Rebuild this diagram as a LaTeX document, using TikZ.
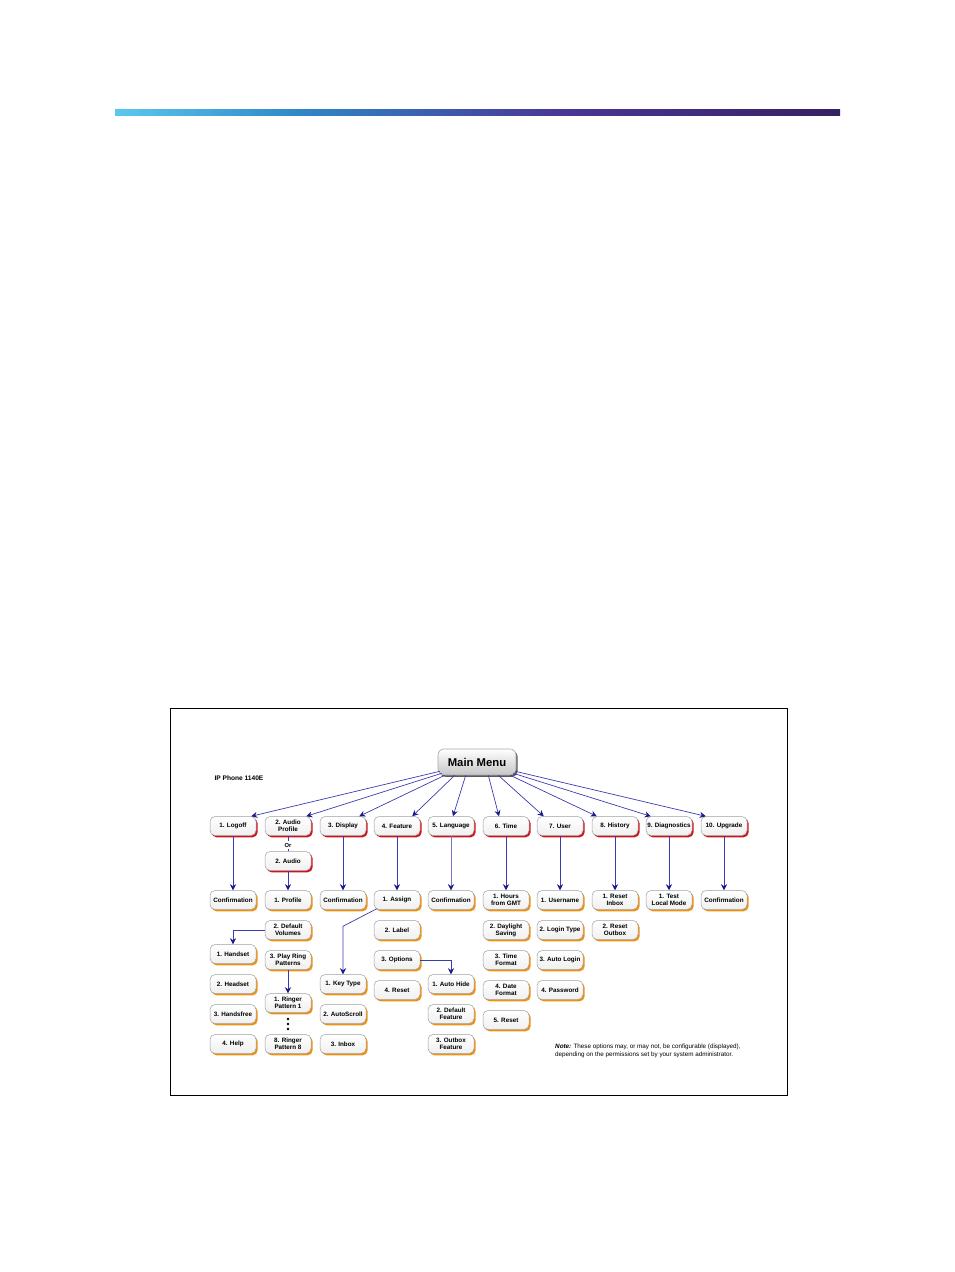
\documentclass[tikz,border=0pt]{standalone}
\usepackage{fontspec}
\setmainfont{Liberation Sans}
\usetikzlibrary{shadows,arrows.meta}
\definecolor{lnblue}{HTML}{3B3BB0}
\definecolor{tipblue}{HTML}{1A1A8A}
\definecolor{shred}{HTML}{D0121A}
\definecolor{shorange}{HTML}{F0900F}
\definecolor{barA}{HTML}{5BC8EE}
\definecolor{barB}{HTML}{2F86C8}
\definecolor{barC}{HTML}{4A3696}
\definecolor{barD}{HTML}{352262}
\tikzset{
  box/.style={draw=gray!75, rounded corners=5pt, top color=white, bottom color=gray!12, minimum width=46pt,
    minimum height=19pt, inner sep=0pt, align=center, line width=0.5pt,
    font=\bfseries\fontsize{6.3}{7}\selectfont},
  lvlone/.style={box, drop shadow={shadow xshift=1.6pt, shadow yshift=-1.8pt, fill=shred, opacity=1}},
  lvltwo/.style={box, drop shadow={shadow xshift=1.6pt, shadow yshift=-1.8pt, fill=shorange, opacity=1}},
  conn/.style={draw=lnblue, line width=0.7pt},
  arr/.style={conn, -{Stealth[length=6pt, width=6pt, color=tipblue]}},
  mainbox/.style={draw=gray!70, rounded corners=6pt, top color=white, bottom color=gray!45,
    minimum width=78pt, minimum height=26pt, inner sep=0pt, line width=0.6pt,
    font=\bfseries\fontsize{11.3}{13}\selectfont,
    drop shadow={shadow xshift=1.6pt, shadow yshift=-1.8pt, fill=gray!70!black, opacity=1}}
}
\begin{document}
\begin{tikzpicture}[x=1pt,y=-1pt]
\useasboundingbox (0,0) rectangle (954,1272);
% top bar
\shade[left color=barA, right color=barB] (115,109) rectangle (300.5,115);
\shade[left color=barB, right color=barC] (300,109) rectangle (560.5,115);
\shade[left color=barC, right color=barD] (560,109) rectangle (840,115);
% frame
\draw[line width=0.6pt] (170.5,708.5) rectangle (787.5,1095.5);

\node[anchor=west, font=\bfseries\fontsize{6.6}{7}\selectfont] (ipl) at (211,778) {IP Phone 1140E};

\node[mainbox] (mm) at (477,762) {Main Menu};

% level 1
\node[lvlone] (l1a) at (233,826) {1. Logoff};
\node[lvlone] (l1b) at (288,826) {2. Audio\\Profile};
\node[lvlone] (l1c) at (343,826) {3. Display};
\node[lvlone] (l1d) at (397,826) {4. Feature};
\node[lvlone] (l1e) at (451,826) {5. Language};
\node[lvlone] (l1f) at (506,826) {6. Time};
\node[lvlone] (l1g) at (560,826) {7. User};
\node[lvlone] (l1h) at (615,826) {8. History};
\node[lvlone] (l1i) at (669,826) {9. Diagnostics};
\node[lvlone] (l1j) at (724,826) {10. Upgrade};

\node[inner sep=1.5pt, font=\bfseries\fontsize{5.8}{6}\selectfont] (or) at (288,845) {Or};
\node[lvlone] (aud) at (288,861) {2. Audio};

% level 2
\node[lvltwo] (c1) at (233,900) {Confirmation};
\node[lvltwo] (prof) at (288,900) {1. Profile};
\node[lvltwo] (c3) at (343,900) {Confirmation};
\node[lvltwo] (as) at (397,900) {1. Assign};
\node[lvltwo] (c5) at (451,900) {Confirmation};
\node[lvltwo] (gmt) at (506,900) {1. Hours\\from GMT};
\node[lvltwo] (un) at (560,900) {1. Username};
\node[lvltwo] (ri) at (615,900) {1. Reset\\Inbox};
\node[lvltwo] (tl) at (669,900) {1. Test\\Local Mode};
\node[lvltwo] (c10) at (724,900) {Confirmation};

\node[lvltwo] (dv) at (288,930) {2. Default\\Volumes};
\node[lvltwo] (lb) at (397,930) {2. Label};
\node[lvltwo] (ds) at (506,930) {2. Daylight\\Saving};
\node[lvltwo] (lt) at (560,930) {2. Login Type};
\node[lvltwo] (ro) at (615,930) {2. Reset\\Outbox};

\node[lvltwo] (prp) at (288,960) {3. Play Ring\\Patterns};
\node[lvltwo] (opt) at (397,960) {3. Options};
\node[lvltwo] (tf) at (506,960) {3. Time\\Format};
\node[lvltwo] (al) at (560,960) {3. Auto Login};

\node[lvltwo] (hs) at (233,954) {1. Handset};
\node[lvltwo] (hd) at (233,984) {2. Headset};
\node[lvltwo] (hf) at (233,1014) {3. Handsfree};
\node[lvltwo] (hp) at (233,1044) {4. Help};

\node[lvltwo] (rp1) at (288,1003) {1. Ringer\\Pattern 1};
\node[lvltwo] (rp8) at (288,1044) {8. Ringer\\Pattern 8};

\node[lvltwo] (kt) at (343,984) {1. Key Type};
\node[lvltwo] (asc) at (343,1014) {2. AutoScroll};
\node[lvltwo] (ib) at (343,1044) {3. Inbox};

\node[lvltwo] (rs4) at (397,990) {4. Reset};
\node[lvltwo] (ah) at (451,984) {1. Auto Hide};
\node[lvltwo] (dfe) at (451,1014) {2. Default\\Feature};
\node[lvltwo] (obf) at (451,1044) {3. Outbox\\Feature};

\node[lvltwo] (df) at (506,990) {4. Date\\Format};
\node[lvltwo] (rs5) at (506,1020) {5. Reset};
\node[lvltwo] (pw) at (560,990) {4. Password};

% dots
\foreach \yy in {1019,1024,1029} \fill (288,\yy) circle (1.3);

% main menu arrows
\draw[arr] ([shift={(2,-4)}]mm.south west) -- ([shift={(-5,0)}]l1a.north east);
\draw[arr] ([shift={(4,-2)}]mm.south west) -- ([shift={(-5,0)}]l1b.north east);
\draw[arr] ([shift={(7,0)}]mm.south west) -- ([shift={(-7,0)}]l1c.north east);
\draw[arr] ([shift={(17,0)}]mm.south west) -- ([shift={(-8,0)}]l1d.north east);
\draw[arr] ([shift={(28,0)}]mm.south west) -- ([shift={(2,0)}]l1e.north);
\draw[arr] ([shift={(-28,0)}]mm.south east) -- ([shift={(-7,0)}]l1f.north);
\draw[arr] ([shift={(-18,0)}]mm.south east) -- ([shift={(7,0)}]l1g.north west);
\draw[arr] ([shift={(-6,0)}]mm.south east) -- ([shift={(5,0)}]l1h.north west);
\draw[arr] ([shift={(-3,-2)}]mm.south east) -- ([shift={(5,0)}]l1i.north west);
\draw[arr] ([shift={(-1,-4)}]mm.south east) -- ([shift={(5,0)}]l1j.north west);

% level 1 to level 2
\draw[arr] (l1a) -- (c1);
\draw[conn] (l1b) -- (or);
\draw[conn] (or) -- (aud);
\draw[arr] (aud) -- (prof);
\draw[arr] (l1c) -- (c3);
\draw[arr] (l1d) -- (as);
\draw[arr, line width=0.45pt, draw=lnblue!70] (l1e) -- (c5);
\draw[arr] (l1f) -- (gmt);
\draw[arr] (l1g) -- (un);
\draw[arr] (l1h) -- (ri);
\draw[arr] (l1i) -- (tl);
\draw[arr] (l1j) -- (c10);

% deeper
\draw[arr] (dv.west) -| (hs.north);
\draw[arr] (prp) -- (rp1);
\draw[arr] ([shift={(3,-1)}]as.south west) -- ([shift={(0,-48)}]kt.north) -- (kt.north);
\draw[arr] (opt.east) -| (ah.north);

% note
\node[anchor=north west, align=left, inner sep=0pt, font=\fontsize{6.3}{8}\selectfont] (note) at (555,1043.5)
  {\textbf{\textit{Note:}} These options may, or may not, be configurable (displayed),\\depending on the permissions set by your system administrator.};
\end{tikzpicture}
\end{document}
